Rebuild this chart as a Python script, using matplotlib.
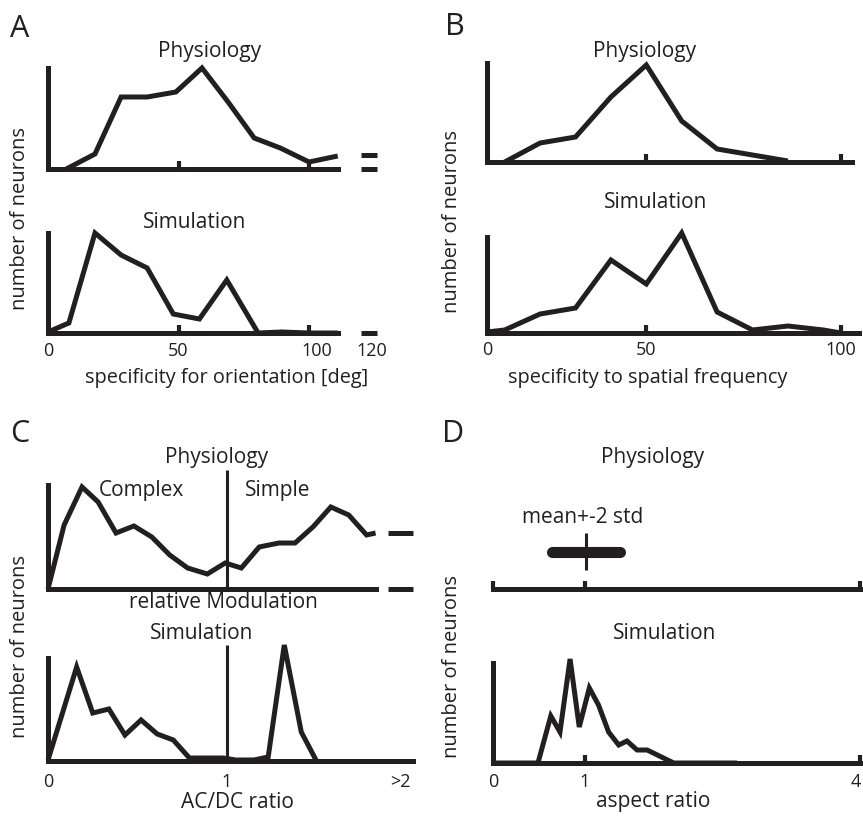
import matplotlib
matplotlib.use('Agg')
import matplotlib.pyplot as plt
from matplotlib.transforms import blended_transform_factory

INK = '#231f20'
plt.rcParams['font.family'] = ['Open Sans', 'DejaVu Sans']

# ---------------- data ----------------
# A: specificity for orientation [deg]
a_phys_x = [7, 18, 28, 38, 49, 59, 69, 79, 89, 100, 111]
a_phys_y = [0, 15, 72, 72, 77, 101, 67, 31, 21, 7, 13]
a_phys_over = 14          # value of the 120 bin, drawn after the axis break
a_sim_x = [0, 8, 18, 28, 38, 48, 58, 68.5, 80.5, 89.5, 100, 111]
a_sim_y = [1, 10, 100, 78, 65, 19, 14, 53, 0, 1, 0, 0]
a_sim_over = 0
a_over_bin = (120, 126)
a_ticklabels = ['0', '50', '100', '120']
a_tickpos = [0, 50, 103, 124]

# B: specificity to spatial frequency
b_phys_x = [5, 15, 25, 35, 45, 55, 65, 75, 85]
b_phys_y = [0, 19, 25, 65, 97, 41, 13, 7, 1]
b_sim_x = [0, 5, 15, 25, 35, 45, 55, 65, 75, 85, 95, 100]
b_sim_y = [1, 3, 19, 25, 73, 49, 100, 21, 3, 7, 3, 0]
b_ticklabels = ['0', '50', '100']
b_tickpos = [0, 45, 100]

# C: AC/DC ratio (relative modulation)
c_phys_x = [0, 0.09, 0.19, 0.28, 0.38, 0.48, 0.58, 0.68, 0.78, 0.89, 0.99,
            1.08, 1.18, 1.29, 1.38, 1.48, 1.58, 1.68, 1.78, 1.83]
c_phys_y = [0, 64, 102, 87, 56, 63, 52, 34, 21, 15, 26,
            21, 42, 46, 46, 62, 82, 74, 54, 56]
c_phys_over = 56
c_sim_x = [0, 0.16, 0.25, 0.34, 0.43, 0.52, 0.61, 0.70, 0.79, 0.98,
           1.05, 1.15, 1.23, 1.32, 1.415, 1.50]
c_sim_y = [1, 94, 48, 52, 26, 41, 27, 21, 3, 3,
           1, 1, 4, 116, 29, 0]
c_sim_over = 0
c_over_bin = (1.9, 2.04)
c_divider = 1.0
c_ticklabels = ['0', '1', '>2']
c_tickpos = [0, 1, 1.97]

# D: aspect ratio
d_mean = 1.01
d_2std = 0.37
d_sim_x = [0, 0.49, 0.63, 0.73, 0.84, 0.94, 1.05, 1.15, 1.26, 1.37, 1.46,
           1.57, 1.68, 1.97, 2.66]
d_sim_y = [0, 0, 47, 31, 104, 36, 75, 58, 31, 18, 22, 13, 13, 0, 0]
d_ticklabels = ['0', '1', '4']
d_tickpos = [0, 1, 3.95]

# ---------------- figure ----------------
W, H = 863, 816
fig = plt.figure(figsize=(W / 100, H / 100), dpi=100)
LW = 3.6
AXLW = 3.6
TFS = 15
XFS = 14.3
LFS = 14.5


def make_ax(x0, x1, yb, yt, xlim, ylim):
    ax = fig.add_axes([x0 / W, 1 - yb / H, (x1 - x0) / W, (yb - yt) / H])
    ax.set_xlim(xlim)
    ax.set_ylim(ylim)
    ax.patch.set_visible(False)
    for s in ax.spines.values():
        s.set_visible(False)
    ax.set_xticks([])
    ax.set_yticks([])
    return ax


def axis_lines(ax, xend, ytop=None, ticks=()):
    b = ax.spines['bottom']
    b.set_visible(True)
    b.set_bounds(ax.get_xlim()[0], xend)
    b.set_linewidth(AXLW)
    b.set_color(INK)
    b.set_capstyle('projecting')
    if ytop is not None:
        l = ax.spines['left']
        l.set_visible(True)
        l.set_bounds(0, ytop)
        l.set_linewidth(AXLW)
        l.set_color(INK)
        l.set_capstyle('projecting')
    if ticks:
        ax.set_xticks(list(ticks), minor=True)
        ax.tick_params(axis='x', which='minor', direction='in', length=6,
                       width=3, color=INK, labelbottom=False)


def line(ax, x, y, lw=LW):
    ax.plot(x, y, color=INK, lw=lw, solid_joinstyle='miter',
            solid_capstyle='butt', clip_on=False)


def tick_labels(ax, pos, labels, ybase):
    tr = blended_transform_factory(ax.transData, fig.transFigure)
    for p, s in zip(pos, labels):
        ax.text(p, 1 - ybase / H, s, transform=tr, ha='center',
                va='baseline', fontsize=13, color=INK)


def ftext(x, y, s, **kw):
    kw.setdefault('color', INK)
    fig.text(x / W, 1 - y / H, s, **kw)


# ----- Panel A -----
ax = make_ax(48, 309, 169, 68, (0, 100), (0, 101))
axis_lines(ax, 111, 101, ticks=(50, 100))
line(ax, a_phys_x, a_phys_y)
line(ax, a_over_bin, [a_phys_over] * 2)
line(ax, a_over_bin, [0, 0])

ax = make_ax(48, 309, 333, 233, (0, 100), (0, 100))
axis_lines(ax, 111, 100, ticks=(50, 100))
line(ax, a_sim_x, a_sim_y)
line(ax, a_over_bin, [a_sim_over] * 2)
tick_labels(ax, a_tickpos, a_ticklabels, 356)

ftext(10, 37, 'A', fontsize=22)
ftext(210, 57, 'Physiology', ha='center', va='baseline', fontsize=TFS)
ftext(195, 228, 'Simulation', ha='center', va='baseline', fontsize=TFS)
ftext(227, 383, 'specificity for orientation [deg]', ha='center',
      va='baseline', fontsize=XFS)
ftext(20, 219, 'number of neurons', rotation=90, ha='center', va='center',
      fontsize=LFS)

# ----- Panel B -----
ax = make_ax(487, 841, 162, 63, (0, 100), (0, 99))
axis_lines(ax, 103, 99, ticks=(b_tickpos[1], b_tickpos[2]))
line(ax, b_phys_x, b_phys_y)

ax = make_ax(487, 841, 333, 237, (0, 100), (0, 96))
axis_lines(ax, 105, 96, ticks=(b_tickpos[1], b_tickpos[2]))
line(ax, b_sim_x, b_sim_y)
tick_labels(ax, b_tickpos, b_ticklabels, 355)

ftext(445, 35, 'B', fontsize=22)
ftext(645, 57, 'Physiology', ha='center', va='baseline', fontsize=TFS)
ftext(656, 208, 'Simulation', ha='center', va='baseline', fontsize=TFS)
ftext(648, 383, 'specificity to spatial frequency', ha='center',
      va='baseline', fontsize=XFS)
ftext(452, 222, 'number of neurons', rotation=90, ha='center', va='center',
      fontsize=LFS)

# ----- Panel C -----
ax = make_ax(48, 227, 589, 485, (0, 1), (0, 104))
axis_lines(ax, 1.83, 104)
line(ax, c_phys_x, c_phys_y)
line(ax, c_over_bin, [c_phys_over] * 2)
line(ax, c_over_bin, [0, 0])
ax.vlines(c_divider, 0, 119, color=INK, lw=2.2, clip_on=False)

ax = make_ax(48, 227, 761, 658, (0, 1), (0, 103))
axis_lines(ax, c_over_bin[1], 103)
line(ax, c_sim_x, c_sim_y)
ax.vlines(c_divider, 0, 116, color=INK, lw=2.2, clip_on=False)
tick_labels(ax, c_tickpos, c_ticklabels, 787)

ftext(10, 442, 'C', fontsize=22)
ftext(217, 463, 'Physiology', ha='center', va='baseline', fontsize=TFS)
ftext(141, 496, 'Complex', ha='center', va='baseline', fontsize=TFS)
ftext(278, 496, 'Simple', ha='center', va='baseline', fontsize=TFS)
ftext(223, 608, 'relative Modulation', ha='center', va='baseline', fontsize=TFS)
ftext(202, 639, 'Simulation', ha='center', va='baseline', fontsize=TFS)
ftext(237, 808, 'AC/DC ratio', ha='center', va='baseline', fontsize=TFS)
ftext(20, 647, 'number of neurons', rotation=90, ha='center', va='center',
      fontsize=LFS)

# ----- Panel D -----
ax = make_ax(493, 860, 589, 489, (0, 4), (0, 100))
axis_lines(ax, 4, None, ticks=(0, 1, 4))
ax.plot([d_mean - d_2std, d_mean + d_2std], [37, 37], color=INK, lw=8,
        solid_capstyle='round', clip_on=False)
ax.vlines(d_mean, 19, 56, color=INK, lw=2.2, clip_on=False)

ax = make_ax(493, 860, 763, 663, (0, 4), (0, 100))
axis_lines(ax, 4, 100, ticks=(1, 4))
line(ax, d_sim_x, d_sim_y)
tick_labels(ax, d_tickpos, d_ticklabels, 787)

ftext(442, 442, 'D', fontsize=22)
ftext(653, 463, 'Physiology', ha='center', va='baseline', fontsize=TFS)
ftext(583, 523, 'mean+-2 std', ha='center', va='baseline', fontsize=TFS)
ftext(665, 639, 'Simulation', ha='center', va='baseline', fontsize=TFS)
ftext(653, 807, 'aspect ratio', ha='center', va='baseline', fontsize=TFS)
ftext(452, 666, 'number of neurons', rotation=90, ha='center', va='center',
      fontsize=LFS)

fig.savefig('out.png', dpi=100)
